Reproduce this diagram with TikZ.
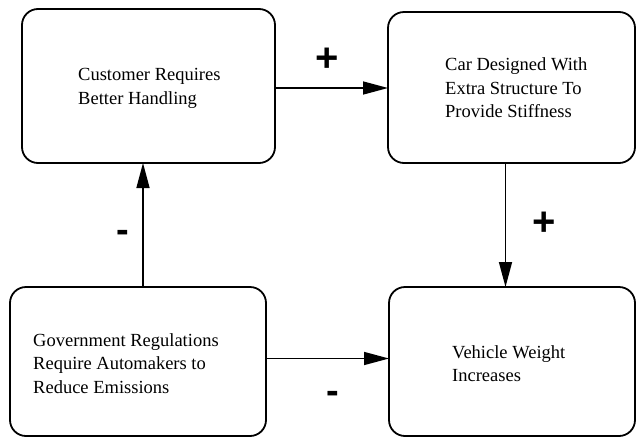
\documentclass[tikz,border=0pt]{standalone}
\usepackage{fontspec}
\setmainfont{Liberation Serif}
\newfontfamily\signfont{Liberation Sans}
\usetikzlibrary{arrows.meta}
\begin{document}
\begin{tikzpicture}[x=1pt,y=-1pt,
  box/.style={draw, line width=1.8pt, rounded corners=16pt, inner sep=0pt, outer sep=0pt},
  txt/.style={anchor=west, inner sep=0pt, align=left, font=\fontsize{18.5}{23.5}\selectfont},
  conn/.style={line width=1.5pt, -{Triangle[length=25pt,width=13pt]}},
  plussign/.style={inner sep=0pt, font=\signfont\fontsize{40}{40}\selectfont\bfseries},
  minussign/.style={inner sep=0pt, font=\signfont\fontsize{38}{38}\selectfont\bfseries}]
\useasboundingbox (0,0) rectangle (637,437);

% the four boxes of the loop
\node[box, minimum width=253pt, minimum height=154pt] (cust)   at (148.5,86)   {};
\node[box, minimum width=247pt, minimum height=151pt] (car)    at (511.5,87.5) {};
\node[box, minimum width=256pt, minimum height=149pt] (gov)    at (138,361.5)  {};
\node[box, minimum width=246pt, minimum height=149pt] (weight) at (512,361.5)  {};

% box texts
\node[txt] (custT)   at (78,88.5)   {Customer Requires\\Better Handling};
\node[txt] (carT)    at (445,88)    {Car Designed With\\Extra Structure To\\Provide Stiffness};
\node[txt] (govT)    at (33,363.5)  {Government Regulations\\Require Automakers to\\Reduce Emissions};
\node[txt] (weightT) at (452,363.5) {Vehicle Weight\\Increases};

% causal links
\draw[conn] ([yshift=-2pt]cust.east) -- ([yshift=-2pt]cust.east -| car.west);
\draw[conn] ([xshift=-6pt]car.south) -- ([xshift=-6pt]car.south |- weight.north);
\draw[conn] ([xshift=5pt]gov.north) -- ([xshift=5pt]gov.north |- cust.south);
\draw[conn] ([yshift=3pt]gov.east) -- ([yshift=3pt]gov.east -| weight.west);

% polarity signs
\node[plussign]  (p1) at (327,60)    {+};
\node[plussign]  (p2) at (544,224)   {+};
\node[minussign] (m1) at (123,236)   {-};
\node[minussign] (m2) at (333,397)   {-};
\end{tikzpicture}
\end{document}
